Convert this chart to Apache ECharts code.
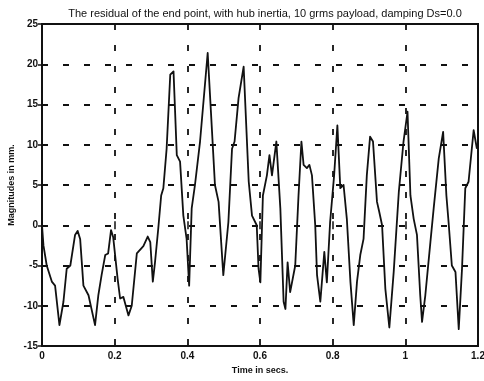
<!DOCTYPE html>
<html>
<head>
<meta charset="utf-8">
<script src="https://cdn.jsdelivr.net/npm/echarts@6/dist/echarts.min.js"></script>
<style>
  html, body { margin: 0; padding: 0; background: #fff; }
  #chart { width: 484px; height: 381px; }
</style>
</head>
<body>
<div id="chart"></div>
<script>
// time (s) and residual (mm)
const timeSecs = [
  0, 0.004, 0.013, 0.027, 0.036, 0.048, 0.059, 0.068, 0.078, 0.091, 0.098, 0.105, 0.114, 0.128, 0.146,
  0.155, 0.164, 0.174, 0.182, 0.190, 0.196, 0.201, 0.208, 0.215, 0.224, 0.238, 0.247, 0.261, 0.279, 0.291,
  0.298, 0.305, 0.311, 0.320, 0.328, 0.334, 0.343, 0.353, 0.362, 0.371, 0.380, 0.389, 0.398, 0.405, 0.412,
  0.421, 0.435, 0.456, 0.468, 0.476, 0.486, 0.499, 0.513, 0.523, 0.530, 0.541, 0.555, 0.569, 0.578, 0.591,
  0.596, 0.601, 0.608, 0.619, 0.626, 0.633, 0.645, 0.656, 0.665, 0.670, 0.676, 0.683, 0.697, 0.706, 0.714,
  0.720, 0.729, 0.736, 0.743, 0.752, 0.757, 0.766, 0.771, 0.777, 0.784, 0.793, 0.804, 0.813, 0.821, 0.830,
  0.839, 0.849, 0.858, 0.867, 0.876, 0.885, 0.894, 0.903, 0.911, 0.922, 0.928, 0.936, 0.945, 0.956, 0.968,
  0.982, 0.995, 1.006, 1.014, 1.023, 1.032, 1.041, 1.046, 1.055, 1.069, 1.078, 1.092, 1.104, 1.113, 1.119,
  1.128, 1.138, 1.147, 1.156, 1.165, 1.174, 1.188, 1.197
];
const residualMm = [
  0, -2.5, -5, -7, -7.5, -12.4, -9.5, -5.4, -5, -1.2, -0.7, -1.7, -7.5, -8.7, -12.4,
  -8.7, -6.2, -3.7, -3.5, -0.6, -1.5, -1.7, -6.6, -9.1, -8.9, -11.2, -10, -3.5, -2.6, -1.4,
  -2.1, -7, -4.6, -0.4, 3.7, 4.6, 9.5, 18.7, 19.1, 8.7, 7.9, 1.2, -1.7, -7.5, 2.1,
  5, 10.4, 21.4, 11.6, 5, 2.9, -6.2, 0.4, 9.5, 10.4, 15.8, 19.7, 5.4, 1.2, 0,
  -5.4, -7.1, 3.7, 6.2, 8.7, 6.2, 10.4, 2.1, -9.5, -10.4, -4.6, -8.3, -5, 3.7, 10.4,
  7.5, 7.1, 7.5, 6.2, 0, -6.2, -9.5, -9.5, -3.3, -7.1, 0.4, 6.2, 12.4, 4.6, 5,
  0.8, -7.1, -12.4, -7, -3.7, -1.7, 6.2, 11, 10.4, 2.9, 1.7, 0, -7.9, -12.7, -5.8,
  4.1, 10.4, 14.1, 3.7, 0.8, -1.2, -8.7, -12, -8.7, -2.1, 2.1, 8.3, 11.6, 3.7, 0.4,
  -5, -5.8, -12.9, -5.4, 4.6, 5.4, 11.8, 9.5
];
const xTicks = [0, 0.2, 0.4, 0.6, 0.8, 1, 1.2];
const yTicks = [-15, -10, -5, 0, 5, 10, 15, 20, 25];

const chart = echarts.init(document.getElementById('chart'));
const ink = '#111';
const font = 'Liberation Sans, Arial, sans-serif';
const grid = { type: [6, 15], color: ink, width: 1.8 };
const tick = { inside: true, length: 4, lineStyle: { color: ink, width: 1.5 } };

const option = {
  backgroundColor: '#fff',
  animation: false,
  title: {
    text: 'The residual of the end point, with hub inertia, 10 grms payload, damping Ds=0.0',
    left: 260, top: 3, textAlign: 'center',
    textStyle: { fontFamily: font, fontSize: 11, fontWeight: 'normal', color: ink }
  },
  grid: {
    left: 42, right: 6, top: 24, bottom: 35, show: true, borderColor: ink, borderWidth: 2,
    containLabel: false, outerBoundsMode: 'none'
  },
  xAxis: [{
    type: 'value', min: 0, max: 1.2, interval: 0.2,
    name: 'Time in secs.', nameLocation: 'middle', nameGap: 20,
    nameTextStyle: { fontFamily: font, fontSize: 9, color: ink, fontWeight: 'bold' },
    axisLine: { show: false },
    axisTick: tick,
    axisLabel: { fontFamily: font, fontSize: 10, color: ink, margin: 5, fontWeight: 'bold',
      formatter: v => xTicks.includes(+v.toFixed(1)) ? String(+v.toFixed(1)) : '' },
    splitLine: { show: true, lineStyle: grid }
  }, {
    type: 'value', position: 'top', min: 0, max: 1.2, interval: 0.2,
    axisLine: { show: false }, axisLabel: { show: false }, splitLine: { show: false },
    axisTick: tick
  }],
  yAxis: [{
    type: 'value', min: yTicks[0], max: yTicks[yTicks.length - 1], interval: 5,
    name: 'Magnitudes in mm.', nameLocation: 'middle', nameGap: 26, nameRotate: 90,
    nameMoveOverlap: false,
    nameTextStyle: { fontFamily: font, fontSize: 9, color: ink, fontWeight: 'bold' },
    axisLine: { show: false },
    axisTick: tick,
    axisLabel: { fontFamily: font, fontSize: 10, color: ink, margin: 4, fontWeight: 'bold' },
    splitLine: { show: true, lineStyle: grid }
  }, {
    type: 'value', position: 'right', min: -15, max: 25, interval: 5,
    axisLine: { show: false }, axisLabel: { show: false }, splitLine: { show: false },
    axisTick: tick
  }],
  series: [{
    type: 'line',
    data: timeSecs.map((t, i) => [t, residualMm[i]]),
    showSymbol: false,
    lineStyle: { color: ink, width: 1.8, join: 'round' }
  }]
};
chart.setOption(option);
</script>
</body>
</html>
